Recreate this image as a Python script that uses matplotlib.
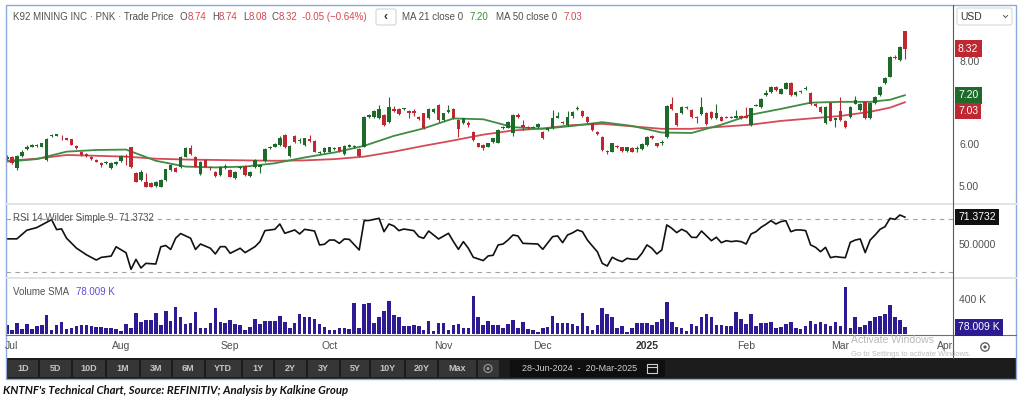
import matplotlib
matplotlib.use("Agg")
import matplotlib.pyplot as plt
import matplotlib.transforms as mtransforms
from matplotlib.patches import Rectangle, Circle, FancyBboxPatch
import numpy as np
import pandas as pd

plt.rcParams['font.family'] = ['Liberation Sans', 'DejaVu Sans']

# ---------------- data ----------------
holidays = ['2024-07-04', '2024-09-02', '2024-11-28', '2024-12-25',
            '2025-01-01', '2025-01-09', '2025-01-20', '2025-02-17']

opens = [5.66, 5.72, 5.44, 5.74, 5.91, 5.96, 5.98, 5.96, 5.64, 6.22,
         6.22, 6.17, 6.16, 6.14, 5.98, 5.84, 5.78, 5.72, 5.64, 5.56,
         5.57, 5.44, 5.54, 5.62, 5.73, 5.94, 5.33, 5.16, 5.12, 5.09,
         5.01, 5.00, 5.16, 5.40, 5.44, 5.46, 5.72, 5.92, 5.72, 5.30,
         5.64, 5.46, 5.36, 5.28, 5.46, 5.40, 5.20, 5.44, 5.49, 5.25,
         5.46, 5.48, 5.62, 5.92, 5.96, 6.00, 6.24, 5.74, 6.22, 6.09,
         6.00, 6.14, 6.10, 5.80, 5.82, 5.84, 5.90, 5.94, 5.78, 5.96,
         5.94, 5.90, 5.96, 6.68, 6.68, 6.64, 6.72, 6.56, 6.87, 6.87,
         6.86, 6.82, 6.82, 6.68, 6.76, 6.64, 6.80, 6.96, 6.60, 6.80,
         6.86, 6.60, 6.54, 6.53, 6.32, 6.04, 6.00, 5.96, 6.08, 6.06,
         6.40, 6.42, 6.30, 6.72, 6.48, 6.44, 6.42, 6.44, 6.32, 6.35,
         6.40, 6.66, 6.55, 6.48, 6.69, 6.86, 6.82, 6.68, 6.52, 6.32,
         6.20, 5.85, 5.84, 5.98, 5.94, 5.86, 5.92, 5.90, 5.90, 6.00,
         6.22, 6.04, 6.04, 6.20, 6.99, 6.76, 6.76, 6.91, 6.84, 6.67,
         6.75, 6.78, 6.80, 6.64, 6.67, 6.68, 6.66, 6.66, 6.70, 6.69,
         6.48, 6.95, 6.91, 7.20, 7.28, 7.40, 7.24, 7.36, 7.49, 7.20,
         7.30, 7.36, 7.26, 6.99, 6.91, 6.52, 7.02, 6.60, 6.83, 6.59,
         6.67, 7.00, 6.84, 7.04, 6.64, 7.02, 7.20, 7.49, 7.65, 8.13,
         8.05, 8.74]
highs = [5.76, 5.74, 5.76, 5.87, 5.99, 6.02, 6.03, 6.06, 6.17, 6.27,
         6.27, 6.24, 6.18, 6.15, 5.99, 5.86, 5.80, 5.73, 5.66, 5.58,
         5.62, 5.59, 5.62, 5.76, 5.78, 5.96, 5.35, 5.40, 5.32, 5.11,
         5.14, 5.18, 5.43, 5.54, 5.46, 5.74, 5.94, 6.00, 5.74, 5.62,
         5.66, 5.47, 5.38, 5.50, 5.54, 5.42, 5.38, 5.50, 5.51, 5.38,
         5.66, 5.55, 5.92, 5.98, 6.04, 6.22, 6.26, 6.00, 6.24, 6.16,
         6.18, 6.24, 6.12, 5.86, 5.94, 5.96, 5.96, 5.96, 6.00, 6.03,
         6.00, 5.92, 6.69, 6.75, 6.84, 6.96, 6.74, 7.16, 6.95, 6.89,
         6.90, 6.84, 6.86, 6.70, 6.78, 6.89, 6.90, 7.00, 6.78, 6.96,
         6.88, 6.62, 6.66, 6.58, 6.34, 6.06, 6.02, 6.06, 6.18, 6.38,
         6.46, 6.58, 6.74, 6.76, 6.60, 6.46, 6.46, 6.52, 6.34, 6.42,
         6.84, 6.80, 6.57, 6.83, 6.81, 6.95, 6.84, 6.70, 6.54, 6.34,
         6.22, 5.87, 6.06, 6.00, 5.96, 5.96, 5.94, 5.98, 6.04, 6.22,
         6.24, 6.06, 6.12, 6.96, 7.16, 6.78, 6.93, 6.93, 6.86, 6.69,
         7.16, 6.80, 6.82, 7.00, 6.69, 6.70, 6.70, 6.84, 6.72, 6.91,
         6.90, 7.00, 7.14, 7.32, 7.42, 7.42, 7.38, 7.51, 7.51, 7.30,
         7.32, 7.42, 7.28, 7.01, 6.93, 6.94, 7.04, 6.66, 7.16, 6.61,
         6.94, 7.18, 7.02, 7.06, 7.04, 7.18, 7.42, 7.63, 8.15, 8.16,
         8.39, 8.74]
lows = [5.63, 5.55, 5.40, 5.72, 5.89, 5.94, 5.96, 5.94, 5.62, 6.20,
        6.21, 6.12, 6.11, 5.99, 5.90, 5.74, 5.72, 5.65, 5.58, 5.46,
        5.54, 5.42, 5.52, 5.60, 5.52, 5.45, 5.10, 5.14, 4.98, 4.98,
        4.99, 4.98, 5.14, 5.38, 5.34, 5.44, 5.70, 5.76, 5.46, 5.28,
        5.46, 5.40, 5.22, 5.26, 5.42, 5.22, 5.18, 5.42, 5.26, 5.23,
        5.44, 5.33, 5.60, 5.90, 5.94, 5.98, 5.92, 5.72, 6.06, 6.06,
        5.98, 6.08, 5.82, 5.78, 5.80, 5.82, 5.88, 5.84, 5.76, 5.94,
        5.92, 5.72, 5.94, 6.66, 6.66, 6.62, 6.46, 6.54, 6.80, 6.73,
        6.84, 6.64, 6.70, 6.60, 6.38, 6.62, 6.78, 6.56, 6.58, 6.78,
        6.62, 6.20, 6.50, 6.44, 6.10, 5.94, 5.88, 5.94, 6.06, 6.04,
        6.38, 6.40, 6.22, 6.66, 6.36, 6.38, 6.40, 6.42, 6.14, 6.33,
        6.38, 6.64, 6.51, 6.46, 6.66, 6.84, 6.68, 6.54, 6.33, 6.25,
        5.86, 5.78, 5.82, 5.92, 5.84, 5.84, 5.82, 5.82, 5.88, 5.98,
        6.14, 5.96, 6.00, 6.18, 6.84, 6.46, 6.74, 6.86, 6.65, 6.52,
        6.73, 6.49, 6.62, 6.62, 6.57, 6.64, 6.64, 6.64, 6.62, 6.64,
        6.46, 6.93, 6.89, 7.18, 7.26, 7.30, 7.22, 7.34, 7.18, 7.18,
        7.26, 7.32, 6.97, 6.92, 6.78, 6.50, 6.57, 6.44, 6.58, 6.41,
        6.65, 6.98, 6.82, 6.62, 6.62, 7.00, 7.18, 7.47, 7.63, 8.07,
        8.03, 8.08]
closes = [5.72, 5.57, 5.74, 5.84, 5.96, 6.00, 6.01, 6.04, 6.15, 6.25,
          6.26, 6.16, 6.12, 6.00, 5.92, 5.76, 5.74, 5.67, 5.60, 5.52,
          5.58, 5.57, 5.60, 5.74, 5.71, 5.48, 5.12, 5.36, 5.00, 5.00,
          5.12, 5.16, 5.41, 5.52, 5.36, 5.72, 5.92, 5.78, 5.48, 5.60,
          5.48, 5.44, 5.25, 5.48, 5.49, 5.24, 5.36, 5.46, 5.28, 5.36,
          5.64, 5.53, 5.90, 5.94, 6.02, 6.16, 5.94, 5.98, 6.08, 6.12,
          6.16, 6.10, 5.84, 5.84, 5.92, 5.94, 5.92, 5.86, 5.98, 6.00,
          5.97, 5.74, 6.67, 6.72, 6.82, 6.87, 6.48, 6.92, 6.83, 6.75,
          6.88, 6.78, 6.78, 6.62, 6.40, 6.87, 6.87, 6.60, 6.76, 6.84,
          6.64, 6.38, 6.64, 6.49, 6.12, 5.96, 5.92, 6.04, 6.16, 6.36,
          6.44, 6.56, 6.72, 6.68, 6.44, 6.40, 6.44, 6.50, 6.16, 6.40,
          6.64, 6.69, 6.53, 6.67, 6.79, 6.90, 6.70, 6.56, 6.35, 6.27,
          5.88, 5.82, 6.04, 5.94, 5.86, 5.94, 5.84, 5.93, 6.02, 6.20,
          6.16, 5.98, 6.08, 6.94, 6.86, 6.48, 6.91, 6.88, 6.67, 6.64,
          6.91, 6.51, 6.64, 6.78, 6.59, 6.66, 6.68, 6.69, 6.64, 6.66,
          6.88, 6.97, 7.12, 7.26, 7.40, 7.32, 7.36, 7.49, 7.20, 7.28,
          7.28, 7.38, 6.99, 6.94, 6.80, 6.92, 6.59, 6.64, 6.60, 6.43,
          6.92, 7.08, 7.00, 6.64, 7.02, 7.16, 7.40, 7.61, 8.13, 8.09,
          8.37, 8.32]

volume_k = [106, 47, 133, 59, 114, 59, 98, 106, 223, 47,
            106, 137, 55, 74, 98, 106, 106, 94, 78, 86,
            67, 74, 59, 39, 114, 74, 243, 145, 165, 165,
            251, 106, 270, 153, 314, 204, 114, 125, 263, 74,
            67, 125, 302, 137, 125, 165, 114, 106, 47, 86,
            176, 118, 153, 157, 157, 212, 137, 74, 133, 235,
            204, 204, 172, 114, 86, 47, 47, 74, 67, 59,
            361, 74, 353, 361, 125, 204, 274, 392, 223, 196,
            94, 94, 106, 94, 47, 157, 39, 133, 133, 47,
            106, 114, 67, 67, 451, 204, 106, 157, 106, 106,
            67, 118, 165, 67, 145, 55, 47, 27, 74, 78,
            216, 125, 125, 125, 118, 94, 251, 94, 47, 106,
            302, 235, 196, 74, 98, 27, 74, 125, 125, 125,
            106, 137, 172, 372, 137, 86, 74, 39, 118, 94,
            196, 235, 204, 106, 106, 94, 94, 263, 180, 118,
            231, 98, 125, 133, 145, 67, 86, 118, 137, 74,
            55, 94, 157, 118, 137, 114, 94, 145, 94, 557,
            74, 196, 86, 106, 153, 204, 212, 235, 341, 196,
            165, 78]

# moving averages, read at these candle numbers
ma_days = [0, 6, 12, 18, 24, 30, 36, 42, 48, 54, 60, 66, 72, 78, 84, 90,
           96, 102, 108, 114, 120, 126, 132, 138, 144, 150, 156, 162, 168,
           174, 178, 181]
ma21 = [5.60, 5.66, 5.84, 5.88, 5.89, 5.62, 5.48, 5.46, 5.48, 5.56, 5.70,
        5.82, 5.98, 6.22, 6.40, 6.64, 6.62, 6.43, 6.39, 6.46, 6.55, 6.46,
        6.30, 6.29, 6.49, 6.73, 6.87, 7.02, 7.04, 7.04, 7.09, 7.20]
ma50 = [5.62, 5.67, 5.76, 5.74, 5.72, 5.67, 5.65, 5.64, 5.63, 5.62, 5.63,
        5.66, 5.72, 5.84, 5.98, 6.11, 6.25, 6.35, 6.40, 6.48, 6.51, 6.45,
        6.39, 6.39, 6.44, 6.49, 6.58, 6.64, 6.70, 6.80, 6.90, 7.03]

rsi_days = [0, 2, 4, 6, 9, 10, 11, 12, 14, 16, 18, 19, 21, 22, 24, 25, 26,
            27, 28, 30, 31, 32, 33, 34, 35, 37, 38, 39, 41, 42, 43, 44, 45,
            47, 48, 50, 51, 52, 54, 55, 56, 58, 59, 60, 62, 63, 64, 65, 66,
            67, 68, 69, 71, 72, 73, 75, 76, 77, 78, 79, 80, 82, 83, 84, 85,
            86, 87, 89, 90, 91, 92, 93, 94, 96, 97, 98, 99, 100, 101, 102,
            103, 104, 107, 108, 110, 111, 112, 113, 114, 115, 116, 117, 118,
            119, 120, 121, 122, 123, 124, 125, 126, 127, 128, 129, 130, 131,
            132, 133, 134, 135, 136, 137, 138, 139, 140, 141, 142, 143, 144,
            145, 146, 147, 148, 149, 150, 151, 152, 153, 154, 155, 156, 157,
            158, 159, 160, 161, 162, 163, 164, 165, 166, 167, 168, 169, 170,
            171, 172, 173, 174, 175, 176, 177, 178, 179, 180, 181]
rsi_vals = [55.0, 55.0, 61.5, 63.5, 69.5, 62.0, 62.5, 55.5, 48.0, 43.0, 39.0,
            41.0, 42.0, 49.0, 44.5, 32.0, 39.5, 33.0, 36.5, 36.0, 49.0, 50.0,
            47.0, 55.5, 59.0, 55.5, 47.0, 51.1, 47.9, 43.6, 49.1, 49.1, 44.1,
            47.9, 44.6, 49.1, 52.9, 61.2, 62.2, 66.2, 59.2, 61.7, 58.7, 62.2,
            60.9, 50.4, 50.9, 54.1, 54.1, 51.6, 54.9, 54.6, 46.6, 68.7, 68.9,
            70.5, 60.4, 66.2, 64.7, 61.2, 62.4, 61.2, 56.7, 55.4, 60.9, 57.9,
            54.9, 59.2, 52.9, 47.1, 52.9, 47.9, 41.1, 38.6, 42.1, 42.6, 50.4,
            51.1, 54.1, 57.9, 57.2, 51.6, 51.1, 47.1, 56.7, 57.2, 52.1, 57.9,
            59.5, 61.7, 60.4, 54.1, 49.6, 45.3, 36.5, 34.5, 41.1, 39.1, 37.8,
            40.3, 39.6, 39.6, 44.1, 50.4, 47.9, 43.6, 46.6, 65.5, 63.0, 59.7,
            62.2, 60.4, 56.2, 56.0, 60.9, 57.2, 53.6, 56.2, 52.1, 53.6, 52.9,
            53.4, 52.9, 51.1, 58.7, 60.4, 63.7, 66.0, 68.7, 66.2, 68.0, 68.7,
            60.4, 61.7, 61.7, 61.2, 50.4, 48.6, 45.3, 48.6, 40.8, 41.6, 41.1,
            40.8, 52.4, 54.1, 54.9, 44.6, 54.1, 57.9, 62.2, 64.2, 70.5, 69.7,
            73.0, 71.3732]

vol_sma_k = 78.009
price_ticks = [8.0, 6.0, 5.0]
range_buttons = ['1D', '5D', '10D', '1M', '3M', '6M', 'YTD', '1Y', '2Y',
                 '3Y', '5Y', '10Y', '20Y', 'Max']

# ---------------- styling ----------------
RED = '#bd2833'
GREEN = '#1d6a2b'
MA21_C = '#3f8c42'
MA50_C = '#d44b58'
VOL_C = '#2c1b93'
TXT = '#505050'
HDR_RED = '#d2474f'

W, H = 1027, 400
fig = plt.figure(figsize=(W / 100, H / 100), dpi=100)


def axes_px(x0, y0, x1, y1):
    ax = fig.add_axes([x0 / W, 1 - y1 / H, (x1 - x0) / W, (y1 - y0) / H])
    ax.set_axis_off()
    return ax


PLOT_L, PLOT_R = 6, 953
XL = (-0.2, 190.7)

n = len(closes)
xs = np.arange(n)
o = np.array(opens); c = np.array(closes)
hi = np.array(highs); lo = np.array(lows)
col = np.where(c >= o, GREEN, RED)

# price panel
ax_p = axes_px(PLOT_L, 5, PLOT_R, 202)
ax_p.set_xlim(*XL)
ax_p.set_ylim(4.627, 9.373)
ax_p.vlines(xs, lo, hi, colors=col, lw=0.8, zorder=2)
body = np.maximum(np.abs(c - o), 0.02)
ax_p.bar(xs, body, bottom=np.minimum(o, c), width=0.7, color=col,
         lw=0, zorder=3)
ax_p.plot(ma_days, ma50, color=MA50_C, lw=1.3, zorder=1)
ax_p.plot(ma_days, ma21, color=MA21_C, lw=1.3, zorder=1)

# RSI panel
ax_r = axes_px(PLOT_L, 204, PLOT_R, 277)
ax_r.set_xlim(*XL)
ax_r.set_ylim(26.2, 81.3)
for lvl in (70, 30):
    ax_r.axhline(lvl, color='#a0a0a0', lw=0.8, ls=(0, (4, 4)))
ax_r.plot(rsi_days, rsi_vals, color='#111111', lw=1.2)

# volume panel
ax_v = axes_px(PLOT_L, 279, PLOT_R, 334)
ax_v.set_xlim(*XL)
ax_v.set_ylim(0, 647)
ax_v.bar(xs, volume_k, width=0.72, color=VOL_C, lw=0)

# ---------------- overlay in pixel coordinates ----------------
deco = fig.add_axes([0, 0, 1, 1], zorder=5)
deco.set_xlim(0, W)
deco.set_ylim(H, 0)
deco.set_axis_off()

# panel separators and axis lines
for yy in (203.5, 278):
    deco.plot([PLOT_L, 1016], [yy, yy], color='#e3e3e3', lw=1.4)
deco.plot([PLOT_L, 1016], [334.5, 334.5], color='#6e6e6e', lw=0.8)
deco.plot([PLOT_R, PLOT_R], [5, 358], color='#5a5a5a', lw=0.8)

# header
hdr = [(13, 'K92 MINING INC · PNK · Trade Price', TXT),
       (180, 'O', TXT), (188, '8.74', HDR_RED),
       (212, 'H', TXT), (219, '8.74', HDR_RED),
       (243, 'L', TXT), (249, '8.08', HDR_RED),
       (272, 'C', TXT), (279, '8.32', HDR_RED),
       (302, '-0.05 (\u22120.64%)', HDR_RED),
       (402, 'MA 21 close 0', TXT), (469, '7.20', '#3d8b3d'),
       (496, 'MA 50 close 0', TXT), (563, '7.03', HDR_RED)]
for hx, s, cc in hdr:
    deco.text(hx, 17, s, color=cc, fontsize=7, va='center', ha='left')
deco.add_patch(FancyBboxPatch((376, 9), 20, 16,
                              boxstyle='round,pad=0,rounding_size=2',
                              fc='white', ec='#d4d4d4', lw=0.8))
deco.text(386, 17, '\u2039', fontsize=9, ha='center', va='center',
          color='#333333', fontweight='bold')

# USD selector
deco.add_patch(FancyBboxPatch((957, 8), 55, 17,
                              boxstyle='round,pad=0,rounding_size=2',
                              fc='white', ec='#d8d8d8', lw=0.8))
deco.text(960, 16.5, 'USD', fontsize=7.5, color='#333333', va='center')
deco.plot([1003.5, 1005.5, 1007.5], [15.5, 17.5, 15.5], color='#555555', lw=0.7)

# right-hand scale labels
tr_p = mtransforms.blended_transform_factory(deco.transData, ax_p.transData)
tr_r = mtransforms.blended_transform_factory(deco.transData, ax_r.transData)
tr_v = mtransforms.blended_transform_factory(deco.transData, ax_v.transData)
for t in price_ticks:
    deco.text(959, t, f'{t:.2f}', transform=tr_p, fontsize=7.5, color=TXT,
              va='center')


def tag(tr, val, s, fc):
    deco.text(958, val, s, transform=tr, fontsize=7.5, color='white',
              va='center', ha='left',
              bbox=dict(boxstyle='square,pad=0.32', fc=fc, ec='none'))


tag(tr_p, closes[-1], f'{closes[-1]:.2f}', RED)
tag(tr_p, ma21[-1], f'{ma21[-1]:.2f}', GREEN)
tag(tr_p, min(ma50[-1], ma21[-1] - 0.38), f'{ma50[-1]:.2f}', RED)

deco.text(959, 50, '50.0000', transform=tr_r, fontsize=7.5, color=TXT,
          va='center')
tag(tr_r, rsi_vals[-1], f'{rsi_vals[-1]:.4f}', '#111111')
deco.text(959, 400, '400 K', transform=tr_v, fontsize=7.5, color=TXT,
          va='center')
tag(tr_v, vol_sma_k, f'{vol_sma_k:.3f} K', VOL_C)

# panel titles
deco.text(13, 218, f'RSI 14 Wilder Simple 9  {rsi_vals[-1]:.4f}', fontsize=7,
          color=TXT, va='center')
deco.text(13, 292, 'Volume SMA', fontsize=7, color=TXT, va='center')
deco.text(76, 292, f'{vol_sma_k:.3f} K', fontsize=7, color='#5b4fcf',
          va='center')

# month labels
dates = pd.bdate_range('2024-06-28', '2025-04-30', freq='C',
                       holidays=holidays)
tr_x = mtransforms.blended_transform_factory(ax_v.transData, deco.transData)
for i in range(1, len(dates)):
    if dates[i].month != dates[i - 1].month and i < XL[1]:
        jan = dates[i].month == 1
        lab = str(dates[i].year) if jan else dates[i].strftime('%b')
        deco.text(i, 346, lab, transform=tr_x, fontsize=7.5, ha='center',
                  va='center', color='#333333' if jan else TXT,
                  fontweight='bold' if jan else 'normal')

# gear icon on the time axis
deco.add_patch(Circle((985, 347), 4.2, fc='none', ec='#555555', lw=0.9))
deco.add_patch(Circle((985, 347), 1.6, fc='#555555', ec='none'))

# windows watermark
deco.text(851, 340, 'Activate Windows', fontsize=7.6, color='#b4b4b4',
          va='center', alpha=0.9)
deco.text(851, 354, 'Go to Settings to activate Windows.', fontsize=5.4,
          color='#b4b4b4', va='center', alpha=0.9)

# bottom toolbar
deco.add_patch(Rectangle((6, 358), 1010, 21, fc='#1c1c1c', ec='none'))
edges = [7, 39, 72, 106, 140, 172, 205, 242, 274, 307, 340, 370, 405, 438,
         477, 500]
for k in range(len(edges) - 1):
    x0, x1 = edges[k] + 1, edges[k + 1] - 1.5
    deco.add_patch(Rectangle((x0, 360), x1 - x0, 17, fc='#363636', ec='none'))
    if k < len(range_buttons):
        deco.text((x0 + x1) / 2, 368.5, range_buttons[k], fontsize=6.5,
                  color='#c4c4c4', ha='center', va='center',
                  fontweight='bold')
deco.add_patch(Circle((488, 368.5), 4.0, fc='none', ec='#9a9a9a', lw=0.8))
deco.add_patch(Circle((488, 368.5), 1.5, fc='#9a9a9a', ec='none'))
deco.add_patch(Rectangle((510, 360), 155, 17, fc='#0f0f0f', ec='none'))
deco.text(522, 368.5, '28-Jun-2024  -  20-Mar-2025', fontsize=6.5,
          color='#cfcfcf', va='center')
deco.add_patch(Rectangle((647, 364), 10, 9, fc='none', ec='#cfcfcf', lw=0.8))
deco.plot([647, 657], [366.5, 366.5], color='#cfcfcf', lw=0.8)

# outer frame
deco.add_patch(Rectangle((6, 5), 1010, 374, fc='none', ec='#8eaadb', lw=1.0))

# caption
deco.text(3, 390, "KNTNF's Technical Chart, Source: REFINITIV; Analysis by Kalkine Group",
          fontsize=8.2, fontweight='bold', style='italic', color='#111111',
          va='center', family=['Lato', 'DejaVu Sans'])

fig.savefig('out.png', dpi=100)
